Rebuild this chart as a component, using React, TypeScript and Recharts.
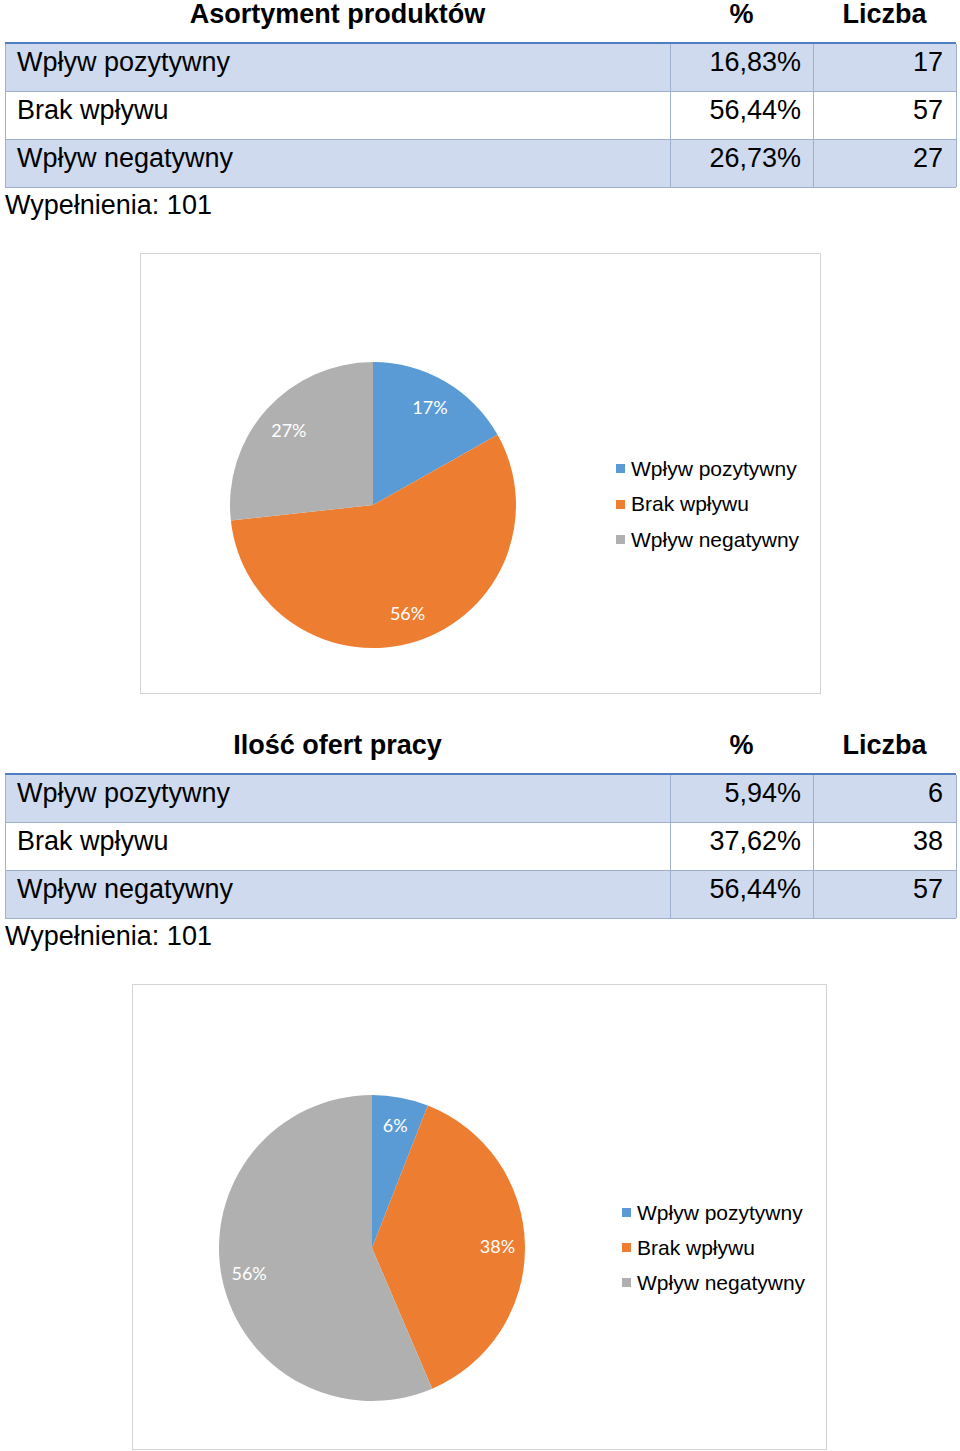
import React from "react";
import { PieChart, Pie, Cell, Legend } from "recharts";

const categories = ["Wpływ pozytywny", "Brak wpływu", "Wpływ negatywny"];
const titles = ["Asortyment produktów", "Ilość ofert pracy"];
const countsProducts = [17, 57, 27];
const countsJobs = [6, 38, 57];
const totalResponses = 101;
const headerPct = "%";
const headerCount = "Liczba";
const filledLabel = "Wypełnienia:";
const colors = ["#5b9bd5", "#ed7d31", "#b0b0b0"];

const TABLE_FONT = "'Liberation Sans', Arial, sans-serif";
const FS = 27;

const fmtPct = (v: number) => ((v / totalResponses) * 100).toFixed(2).replace(".", ",") + "%";

function Table({ top, title, counts }: { top: number; title: string; counts: number[] }) {
  const rowTop = top + 43;
  const rowH = 48;
  const cols = [5, 670, 813, 956];
  const head = { position: "absolute" as const, top: top + 2, height: 24, lineHeight: "24px", textAlign: "center" as const, fontWeight: "bold" as const, fontSize: FS, fontFamily: TABLE_FONT };
  return (
    <div>
      <div style={{ ...head, left: cols[0], width: cols[1] - cols[0] }}>{title}</div>
      <div style={{ ...head, left: cols[1], width: cols[2] - cols[1] }}>{headerPct}</div>
      <div style={{ ...head, left: cols[2], width: cols[3] - cols[2] }}>{headerCount}</div>
      <div style={{ position: "absolute", top: rowTop - 1, left: cols[0], width: cols[3] - cols[0], height: 2, background: "#4f7fc0" }} />
      {categories.map((c, i) => {
        const y = rowTop + 1 + i * rowH;
        const bg = i % 2 === 0 ? "#cfdaee" : "#ffffff";
        const txt = { position: "absolute" as const, top: y - 5, height: rowH - 1, lineHeight: rowH - 2 + "px", fontSize: FS, fontFamily: TABLE_FONT };
        return (
          <div key={c}>
            <div style={{ position: "absolute", top: y, left: cols[0], width: cols[3] - cols[0], height: rowH - 1, background: bg }} />
            <div style={{ position: "absolute", top: y + rowH - 1, left: cols[0], width: cols[3] - cols[0], height: 1, background: "#9fb0ce" }} />
            <div style={{ ...txt, left: cols[0] + 12 }}>{c}</div>
            <div style={{ ...txt, left: cols[1], width: cols[2] - cols[1] - 12, textAlign: "right" }}>{fmtPct(counts[i])}</div>
            <div style={{ ...txt, left: cols[2], width: cols[3] - cols[2] - 13, textAlign: "right" }}>{counts[i]}</div>
          </div>
        );
      })}
      {cols.map((x) => (
        <div key={x} style={{ position: "absolute", top: rowTop + 1, left: x, width: 1, height: rowH * 3 - 1, background: "#9fb0ce" }} />
      ))}
      <div style={{ position: "absolute", top: top + 189, left: 5, height: 32, lineHeight: "32px", fontSize: FS, fontFamily: TABLE_FONT }}>
        {filledLabel} {totalResponses}
      </div>
    </div>
  );
}

const RADIAN = Math.PI / 180;

const makeLabel = (factor: number) => (props: any) => {
  const { cx, cy, midAngle, outerRadius, percent } = props;
  const r = outerRadius * factor;
  const x = cx + r * Math.cos(-midAngle * RADIAN);
  const y = cy + r * Math.sin(-midAngle * RADIAN);
  return (
    <text x={x} y={y} fill="#ffffff" textAnchor="middle" dominantBaseline="central" fontSize={18} fontFamily="Lato, 'Open Sans', sans-serif">
      {Math.round(percent * 100) + "%"}
    </text>
  );
};

const makeLegend = (spacing: number) => (props: any) => {
  const payload = [...(props.payload || [])].sort(
    (a: any, b: any) => categories.indexOf(a.value) - categories.indexOf(b.value)
  );
  return (
    <div style={{ fontFamily: TABLE_FONT, fontSize: 21, color: "#000" }}>
      {payload.map((p: any, i: number) => (
        <div key={i} style={{ display: "flex", alignItems: "center", height: spacing, whiteSpace: "nowrap" }}>
          <span style={{ display: "inline-block", width: 9, height: 9, background: p.color, marginRight: 6 }} />
          <span>{p.value}</span>
        </div>
      ))}
    </div>
  );
};

function PieBox({ left, top, width, height, cx, cy, r, counts, legendLeft, legendTop, spacing, labelFactor }: any) {
  const data = categories.map((name, i) => ({ name, value: counts[i] }));
  return (
    <div style={{ position: "absolute", left, top, width, height, border: "1px solid #d4d4d4", boxSizing: "border-box", background: "#fff" }}>
      <PieChart width={width - 2} height={height - 2} margin={{ top: 0, right: 0, bottom: 0, left: 0 }}>
        <Pie
          data={data}
          dataKey="value"
          nameKey="name"
          cx={cx}
          cy={cy}
          outerRadius={r}
          startAngle={90}
          endAngle={-270}
          stroke="none"
          label={makeLabel(labelFactor)}
          labelLine={false}
          isAnimationActive={false}
        >
          {data.map((d, i) => (
            <Cell key={d.name} fill={colors[i]} />
          ))}
        </Pie>
        <Legend
          layout="vertical"
          content={makeLegend(spacing)}
          wrapperStyle={{ left: legendLeft, top: legendTop, width: 240, bottom: "auto", right: "auto" }}
        />
      </PieChart>
    </div>
  );
}

export default function App() {
  return (
    <div style={{ position: "absolute", left: 0, top: 0, width: 960, height: 1451, background: "#fff", overflow: "hidden" }}>
      <Table top={0} title={titles[0]} counts={countsProducts} />
      <PieBox left={140} top={253} width={681} height={441} cx={232} cy={251} r={143} counts={countsProducts} legendLeft={475} legendTop={197} spacing={35.5} labelFactor={0.79} />
      <Table top={731} title={titles[1]} counts={countsJobs} />
      <PieBox left={132} top={984} width={695} height={466} cx={239} cy={263} r={153} counts={countsJobs} legendLeft={489} legendTop={210} spacing={35} labelFactor={0.82} />
    </div>
  );
}
